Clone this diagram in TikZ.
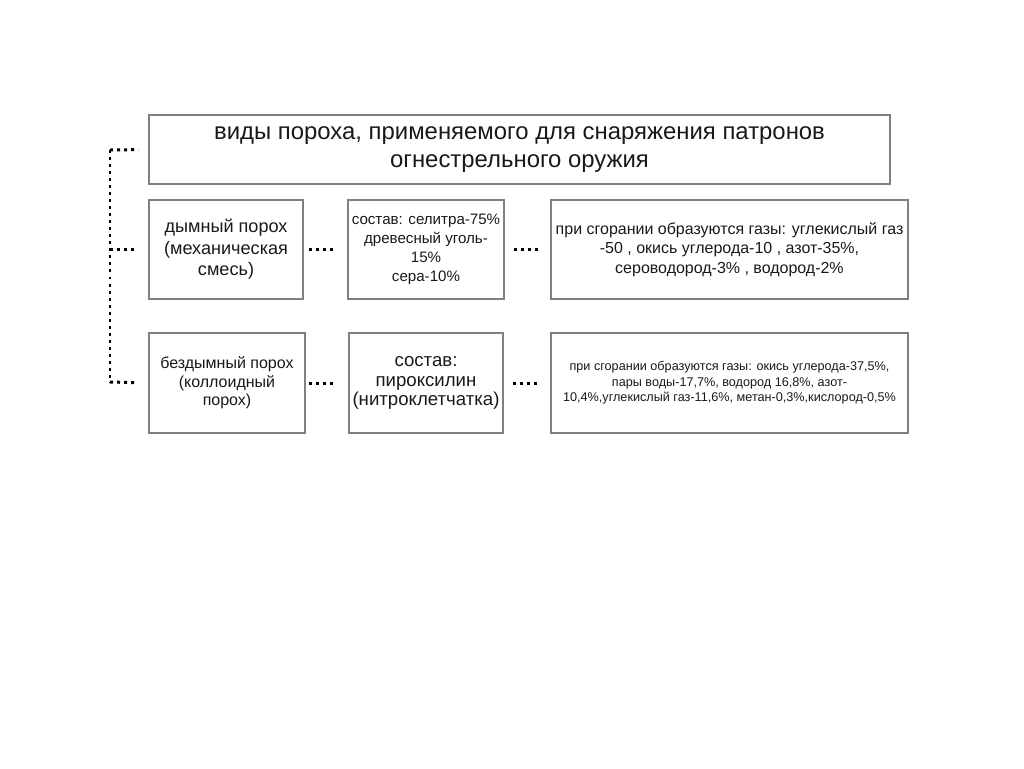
\documentclass[tikz,border=0pt]{standalone}
\usepackage{fontspec}
\setmainfont{Liberation Sans}
\usepackage{tikz}
\usetikzlibrary{calc}

\tikzset{
  box/.style={draw=black!50, line width=1.1pt, align=center, inner sep=2pt, text=black!90},
  dotline/.style={line width=1.7pt, dash pattern=on 1.7pt off 2.3pt}
}

\begin{document}
\begin{tikzpicture}[x=0.02cm, y=-0.02cm]
  \useasboundingbox (0,0) rectangle (1024,768);

  % title
  \node[box, minimum width=14.82cm, minimum height=1.38cm, font=\fontsize{13.6}{16}\selectfont] (title) at (519.5,149.5)
    {виды пороха, применяемого для снаряжения патронов\\огнестрельного оружия};

  % smoky powder
  \node[box, minimum width=3.08cm, minimum height=1.98cm, font=\fontsize{10.3}{12.2}\selectfont] (a1) at (226,249.5)
    {дымный порох\\(механическая\\смесь)};
  \node[box, minimum width=3.08cm, minimum height=1.98cm, font=\fontsize{8.6}{10.8}\selectfont] (a2) at (426,249.5)
    {состав: селитра-75\%\\древесный уголь-\\15\%\\сера-10\%};
  \node[box, minimum width=7.14cm, minimum height=1.98cm, font=\fontsize{9.1}{11}\selectfont] (a3) at (729.5,249.5)
    {при сгорании образуются газы: углекислый газ\\-50 , окись углерода-10 , азот-35\%,\\сероводород-3\% , водород-2\%};

  % smokeless powder
  \node[box, minimum width=3.12cm, minimum height=2cm, font=\fontsize{9.1}{10.6}\selectfont] (b1) at (227,383)
    {бездымный порох\\(коллоидный\\порох)};
  \node[box, minimum width=3.08cm, minimum height=2cm, font=\fontsize{10.6}{11.1}\selectfont] (b2) at (426,383)
    {состав:\\пироксилин\\(нитроклетчатка)};
  \node[box, minimum width=7.14cm, minimum height=2cm, font=\fontsize{7.2}{8.8}\selectfont] (b3) at (729.5,383)
    {при сгорании образуются газы: окись углерода-37,5\%,\\пары воды-17,7\%, водород 16,8\%, азот-\\10,4\%,углекислый газ-11,6\%, метан-0,3\%,кислород-0,5\%};

  % left bracket
  \coordinate (t0) at (110,150);
  \coordinate (t2) at (110,382);
  \draw[dotline] (t0) -- (t2);
  \draw[dotline, shorten >=0.2cm] (t0) -- (title.west);
  \draw[dotline, shorten >=0.2cm] (t0 |- a1.west) -- (a1.west);
  \draw[dotline, shorten >=0.2cm] (t2) -- (b1.west);

  % links
  \draw[dotline, shorten <=0.1cm, shorten >=0.24cm] (a1.east) -- (a2.west);
  \draw[dotline, shorten <=0.18cm, shorten >=0.2cm] (a2.east) -- (a3.west);
  \draw[dotline, shorten <=0.06cm, shorten >=0.24cm] (b1.east) -- (b2.west);
  \draw[dotline, shorten <=0.18cm, shorten >=0.2cm] (b2.east) -- (b3.west);
\end{tikzpicture}
\end{document}
